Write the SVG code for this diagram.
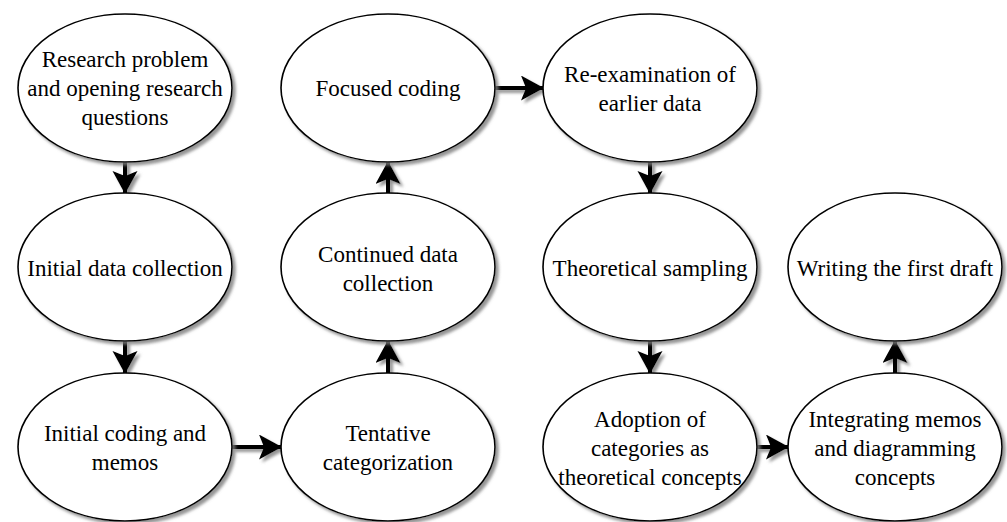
<svg xmlns="http://www.w3.org/2000/svg" width="1007" height="522" viewBox="0 0 1007 522">
<defs>
<filter id="sh" x="-10%" y="-10%" width="130%" height="130%">
<feDropShadow dx="3" dy="3" stdDeviation="1.6" flood-color="#7a7a7a" flood-opacity="0.8"/>
</filter>
<marker id="ah" markerUnits="userSpaceOnUse" markerWidth="26" markerHeight="26" refX="22" refY="12.5" orient="auto" viewBox="0 0 26 26">
<path d="M0,0 L23,12.5 L0,25 L5,12.5 Z" fill="#000"/>
</marker>
</defs>
<style>
.node ellipse{fill:#fff;stroke:#000;stroke-width:1.6;filter:url(#sh)}
.node text{font-size:23px;fill:#000;text-anchor:middle}
.conn line{stroke:#000;stroke-width:4;marker-end:url(#ah)}
</style>
<rect width="1007" height="522" fill="#fff"/>
<g id="connectors" class="conn" filter="url(#sh)">
<line x1="125" y1="162" x2="125" y2="193"/>
<line x1="125" y1="341" x2="125" y2="373"/>
<line x1="232" y1="447" x2="281" y2="447"/>
<line x1="388" y1="373" x2="388" y2="341"/>
<line x1="388" y1="193" x2="388" y2="162"/>
<line x1="495" y1="88" x2="543" y2="88"/>
<line x1="650" y1="162" x2="650" y2="193"/>
<line x1="650" y1="341" x2="650" y2="373"/>
<line x1="757" y1="447" x2="788" y2="447"/>
<line x1="895" y1="373" x2="895" y2="341"/>
</g>
<g font-family="'Liberation Serif', 'DejaVu Serif', 'Times New Roman', serif">
<g id="n1" class="node"><ellipse cx="125" cy="88" rx="107" ry="74"/>
<text x="125" y="67">Research problem</text><text x="125" y="96">and opening research</text><text x="125" y="125">questions</text></g>
<g id="n2" class="node"><ellipse cx="125" cy="267" rx="107" ry="74"/>
<text x="125" y="276">Initial data collection</text></g>
<g id="n3" class="node"><ellipse cx="125" cy="447" rx="107" ry="74"/>
<text x="125" y="441">Initial coding and</text><text x="125" y="470">memos</text></g>
<g id="n4" class="node"><ellipse cx="388" cy="447" rx="107" ry="74"/>
<text x="388" y="441">Tentative</text><text x="388" y="470">categorization</text></g>
<g id="n5" class="node"><ellipse cx="388" cy="267" rx="107" ry="74"/>
<text x="388" y="262">Continued data</text><text x="388" y="291">collection</text></g>
<g id="n6" class="node"><ellipse cx="388" cy="88" rx="107" ry="74"/>
<text x="388" y="96">Focused coding</text></g>
<g id="n7" class="node"><ellipse cx="650" cy="88" rx="107" ry="74"/>
<text x="650" y="82">Re-examination of</text><text x="650" y="111">earlier data</text></g>
<g id="n8" class="node"><ellipse cx="650" cy="267" rx="107" ry="74"/>
<text x="650" y="276">Theoretical sampling</text></g>
<g id="n9" class="node"><ellipse cx="650" cy="447" rx="107" ry="74"/>
<text x="650" y="427">Adoption of</text><text x="650" y="456">categories as</text><text x="650" y="485">theoretical concepts</text></g>
<g id="n10" class="node"><ellipse cx="895" cy="447" rx="107" ry="74"/>
<text x="895" y="427">Integrating memos</text><text x="895" y="456">and diagramming</text><text x="895" y="485">concepts</text></g>
<g id="n11" class="node"><ellipse cx="895" cy="267" rx="107" ry="74"/>
<text x="895" y="276">Writing the first draft</text></g>
</g>
</svg>
